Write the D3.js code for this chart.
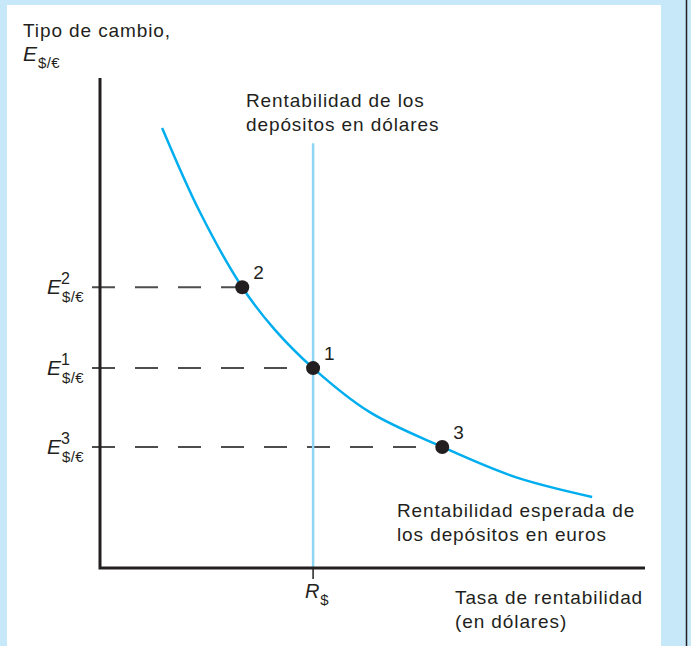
<html lang="es">
<head>
<title>Tipo de cambio y rentabilidad</title>
<script src="https://d3js.org/d3.v7.min.js" charset="utf-8"></script>
<style>
  body { margin: 0; background: #c6e8f8; }
  svg { display: block; font-family: "Liberation Sans", Arial, sans-serif; }
  .lbl { fill: #231f20; font-size: 19px; letter-spacing: 0.9px; }
</style>
</head>
<body>
<script>
// curve of expected euro-deposit returns (x = rate of return, y = exchange rate)
var curveX = [11.4, 18.3, 26.1, 32.1, 39.1, 49.5, 62.8, 76.1, 90.3]
var curveY = [89.8, 72.7, 57.3, 48.6, 40.8, 31.8, 24.7, 18.6, 14.5]

// equilibrium points
var pointNames = ["1", "2", "3"]
var pointX = [39.1, 26.1, 62.8]
var pointY = [40.8, 57.3, 24.7]

var rDollar = 39.1      // return on dollar deposits
var rLineTop = 86.7

var width = 691, height = 646
var svg = d3.select("body").append("svg")
  .attr("width", width).attr("height", height)

// panel
svg.append("rect").attr("width", width).attr("height", height).attr("fill", "#c6e8f8")
svg.append("rect").attr("x", 7).attr("y", 5).attr("width", 654).attr("height", 641).attr("fill", "#fff")
svg.append("line").attr("x1", 686.5).attr("x2", 686.5).attr("y1", 0).attr("y2", height)
  .attr("stroke", "#231f20").attr("stroke-width", 1.5)

var x = d3.scaleLinear().domain([0, 100]).range([100, 645])
var y = d3.scaleLinear().domain([0, 100]).range([568, 78])

// dashed guides to the y axis
svg.append("g").selectAll("line")
  .data(pointNames.map(function(d, i) { return i }))
  .enter().append("line")
  .attr("x1", 90).attr("x2", function(i) { return x(pointX[i]) })
  .attr("y1", function(i) { return y(pointY[i]) })
  .attr("y2", function(i) { return y(pointY[i]) })
  .attr("stroke", "#4d4d4d").attr("stroke-width", 2)
  .attr("stroke-dasharray", "23,20").attr("stroke-dashoffset", -2)

// dollar deposit line
svg.append("line")
  .attr("x1", x(rDollar)).attr("x2", x(rDollar))
  .attr("y1", y(rLineTop)).attr("y2", y(0))
  .attr("stroke", "#8dd6f3").attr("stroke-width", 2.5)
svg.append("line")
  .attr("x1", x(rDollar)).attr("x2", x(rDollar))
  .attr("y1", y(0)).attr("y2", y(0) + 11)
  .attr("stroke", "#231f20").attr("stroke-width", 1.5)

// axes
svg.append("path")
  .attr("d", "M" + x(0) + "," + y(100) + "V" + y(0) + "H" + x(100))
  .attr("fill", "none").attr("stroke", "#231f20").attr("stroke-width", 3)

// curve
var line = d3.line()
  .x(function(i) { return x(curveX[i]) })
  .y(function(i) { return y(curveY[i]) })
  .curve(d3.curveCatmullRom)
svg.append("path")
  .datum(curveX.map(function(d, i) { return i }))
  .attr("d", line)
  .attr("fill", "none").attr("stroke", "#00aeef").attr("stroke-width", 2.5)

// dots and labels
var dots = svg.append("g")
pointNames.forEach(function(n, i) {
  dots.append("circle").attr("cx", x(pointX[i])).attr("cy", y(pointY[i])).attr("r", 7).attr("fill", "#231f20")
  dots.append("text").attr("class", "lbl")
    .attr("x", x(pointX[i]) + 11).attr("y", y(pointY[i]) - 8).text(n)
})

// E labels on y axis
function eLabel(g, sup) {
  g.append("tspan").attr("font-style", "italic").attr("font-size", 21).attr("letter-spacing", 0).text("E")
  var ex = g.node().getComputedTextLength()
  if (sup) g.append("tspan").attr("font-size", 16).attr("dy", -10).text(sup)
  g.append("tspan").attr("font-size", 15).attr("letter-spacing", 0.3)
    .attr("x", +g.attr("x") + ex + 1).attr("dy", sup ? 18 : 7).text("$/€")
}
pointNames.forEach(function(n, i) {
  var t = svg.append("text").attr("class", "lbl")
    .attr("x", 47).attr("y", y(pointY[i]) + 7)
  eLabel(t, n)
})

// titles
function multi(lines, xx, yy) {
  var t = svg.append("text").attr("class", "lbl").attr("x", xx).attr("y", yy)
  lines.forEach(function(s, i) {
    t.append("tspan").attr("x", xx).attr("dy", i ? 24 : 0).text(s)
  })
}
multi(["Tipo de cambio,"], 23, 37)
var e0 = svg.append("text").attr("class", "lbl").attr("x", 23).attr("y", 61)
eLabel(e0, null)
multi(["Rentabilidad de los", "depósitos en dólares"], 246, 107)
multi(["Rentabilidad esperada de", "los depósitos en euros"], 397, 517)
multi(["Tasa de rentabilidad", "(en dólares)"], 455, 604)

var r = svg.append("text").attr("class", "lbl").attr("x", 305).attr("y", 598)
r.append("tspan").attr("font-style", "italic").attr("font-size", 20).text("R")
r.append("tspan").attr("font-size", 15).attr("dy", 7).text("$")
</script>
</body>
</html>
